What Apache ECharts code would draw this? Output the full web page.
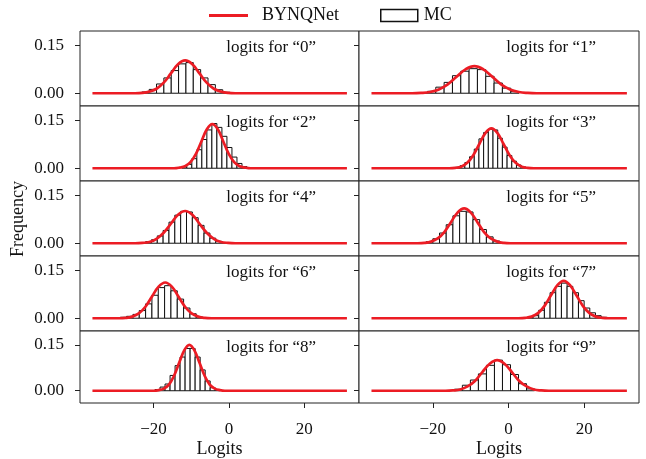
<!DOCTYPE html>
<html>
<head>
<meta charset="utf-8">
<script src="https://cdn.jsdelivr.net/npm/echarts@6/dist/echarts.min.js"></script>
<style>
  html, body { margin: 0; padding: 0; background: #fff; }
  #main { width: 646px; height: 459px; }
</style>
</head>
<body>
<div id="main"></div>
<script>
// digit labels of the ten panels
var digits = ['0', '1', '2', '3', '4', '5', '6', '7', '8', '9'];

// MC histograms: first bin edge, bin width, heights (density)
var binStart = [-25.05, -23.6, -12.5, -14.0, -25.2, -25.3, -30.5, 5.0, -19.6, -14.3];
var binWidth = [1.95, 2.2, 1.33, 1.24, 1.55, 1.77, 1.68, 1.5, 1.33, 2.12];
var hist0 = [0.001, 0.004, 0.012, 0.029, 0.048, 0.071, 0.092, 0.096, 0.074, 0.048, 0.027, 0.011, 0.003];
var hist1 = [0.002, 0.006, 0.019, 0.034, 0.055, 0.069, 0.077, 0.074, 0.053, 0.032, 0.016, 0.005];
var hist2 = [0.004, 0.012, 0.03, 0.058, 0.09, 0.12, 0.14, 0.128, 0.1, 0.065, 0.035, 0.015, 0.005];
var hist3 = [0.003, 0.008, 0.018, 0.036, 0.06, 0.092, 0.112, 0.122, 0.12, 0.094, 0.066, 0.04, 0.022, 0.01, 0.004];
var hist4 = [0.001, 0.002, 0.005, 0.011, 0.023, 0.04, 0.066, 0.088, 0.1, 0.098, 0.08, 0.056, 0.032, 0.016, 0.006, 0.002];
var hist5 = [0.001, 0.002, 0.005, 0.014, 0.032, 0.058, 0.086, 0.1, 0.098, 0.074, 0.043, 0.02, 0.007, 0.002];
var hist6 = [0.002, 0.003, 0.006, 0.012, 0.024, 0.045, 0.072, 0.096, 0.102, 0.086, 0.06, 0.032, 0.014, 0.004, 0.001];
var hist7 = [0.003, 0.008, 0.025, 0.05, 0.08, 0.1, 0.11, 0.1, 0.08, 0.055, 0.032, 0.017, 0.008, 0.003];
var hist8 = [0.004, 0.012, 0.022, 0.05, 0.082, 0.11, 0.138, 0.138, 0.11, 0.068, 0.032, 0.01, 0.003];
var hist9 = [0.005, 0.018, 0.035, 0.055, 0.083, 0.1, 0.085, 0.053, 0.023, 0.006];

// BYNQNet curves [logit, frequency]
var bynq0 = [[-36.2,0],[-26.8,0],[-24.9,0],[-23.0,0.001],[-21.1,0.005],[-19.2,0.014],[-17.3,0.033],[-15.4,0.062],[-13.5,0.091],[-11.6,0.103],[-9.7,0.091],[-7.8,0.062],[-5.9,0.033],[-4.0,0.014],[-2.1,0.005],[-0.2,0.001],[1.7,0],[3.6,0],[31.3,0]];
var bynq1 = [[-36.2,0],[-27.8,0],[-25.45,0],[-23.1,0.001],[-20.75,0.004],[-18.4,0.012],[-16.05,0.028],[-13.7,0.052],[-11.35,0.075],[-9.0,0.085],[-6.65,0.075],[-4.3,0.052],[-1.95,0.028],[0.4,0.012],[2.75,0.004],[5.1,0.001],[7.45,0],[9.8,0],[31.3,0]];
var bynq2 = [[-36.2,0],[-16.0,0],[-14.55,0],[-13.1,0.002],[-11.65,0.006],[-10.2,0.019],[-8.75,0.045],[-7.3,0.084],[-5.85,0.122],[-4.4,0.138],[-2.95,0.122],[-1.5,0.084],[-0.05,0.045],[1.4,0.019],[2.85,0.006],[4.3,0.002],[5.75,0],[7.2,0],[31.3,0]];
var bynq3 = [[-36.2,0],[-17.3,0],[-15.7,0],[-14.1,0.001],[-12.5,0.005],[-10.9,0.017],[-9.3,0.041],[-7.7,0.076],[-6.1,0.110],[-4.5,0.125],[-2.9,0.110],[-1.3,0.076],[0.3,0.041],[1.9,0.017],[3.5,0.005],[5.1,0.001],[6.7,0],[8.3,0],[31.3,0]];
var bynq4 = [[-36.2,0],[-26.8,0],[-24.9,0],[-23.0,0.001],[-21.1,0.004],[-19.2,0.014],[-17.3,0.033],[-15.4,0.061],[-13.5,0.089],[-11.6,0.101],[-9.7,0.089],[-7.8,0.061],[-5.9,0.033],[-4.0,0.014],[-2.1,0.004],[-0.2,0.001],[1.7,0],[3.6,0],[31.3,0]];
var bynq5 = [[-36.2,0],[-25.7,0],[-23.95,0],[-22.2,0.001],[-20.45,0.005],[-18.7,0.015],[-16.95,0.035],[-15.2,0.066],[-13.45,0.096],[-11.7,0.109],[-9.95,0.096],[-8.2,0.066],[-6.45,0.035],[-4.7,0.015],[-2.95,0.005],[-1.2,0.001],[0.55,0],[2.3,0],[31.3,0]];
var bynq6 = [[-36.2,0],[-30.9,0],[-29.15,0],[-27.4,0.001],[-25.65,0.005],[-23.9,0.015],[-22.15,0.036],[-20.4,0.068],[-18.65,0.099],[-16.9,0.112],[-15.15,0.099],[-13.4,0.068],[-11.65,0.036],[-9.9,0.015],[-8.15,0.005],[-6.4,0.001],[-4.65,0],[-2.9,0],[31.3,0]];
var bynq7 = [[-36.2,0],[1.0,0],[2.7,0],[4.4,0.001],[6.1,0.005],[7.8,0.016],[9.5,0.038],[11.2,0.071],[12.9,0.103],[14.6,0.117],[16.3,0.103],[18.0,0.071],[19.7,0.038],[21.4,0.016],[23.1,0.005],[24.8,0.001],[26.5,0],[28.2,0],[31.3,0]];
var bynq8 = [[-36.2,0],[-21.3,0],[-19.95,0],[-18.6,0.002],[-17.25,0.007],[-15.9,0.020],[-14.55,0.049],[-13.2,0.091],[-11.85,0.132],[-10.5,0.150],[-9.15,0.132],[-7.8,0.091],[-6.45,0.049],[-5.1,0.020],[-3.75,0.007],[-2.4,0.002],[-1.05,0],[0.3,0],[31.3,0]];
var bynq9 = [[-36.2,0],[-18.6,0],[-16.65,0],[-14.7,0.001],[-12.75,0.004],[-10.8,0.014],[-8.85,0.032],[-6.9,0.061],[-4.95,0.088],[-3.0,0.100],[-1.05,0.088],[0.9,0.061],[2.85,0.032],[4.8,0.014],[6.75,0.004],[8.7,0.001],[10.65,0],[12.6,0],[31.3,0]];

var xTicks = [-20, 0, 20];
var yTicks = [0, 0.15];

var hists = [hist0, hist1, hist2, hist3, hist4, hist5, hist6, hist7, hist8, hist9];
var curves = [bynq0, bynq1, bynq2, bynq3, bynq4, bynq5, bynq6, bynq7, bynq8, bynq9];

var FONT = '"Liberation Serif", "DejaVu Serif", serif';
var INK = '#111';
var RED = '#ec1c24';

var grids = [], xAxes = [], yAxes = [], series = [], graphics = [];

digits.forEach(function (d, i) {
  var col = i % 2, row = Math.floor(i / 2);
  var left = col ? 359 : 80;
  var width = col ? 280 : 279;
  var top = 31 + 75 * row;
  var bottom = row == 4;

  grids.push({
    left: left, top: top, width: width, height: 75,
    show: true, borderColor: '#222', borderWidth: 1, backgroundColor: '#fff'
  });

  xAxes.push({
    gridIndex: i, type: 'value', min: -39.5, max: 34.5,
    axisLine: { show: false, onZero: false },
    splitLine: { show: false },
    axisTick: { show: bottom, customValues: xTicks, length: 5, lineStyle: { color: '#222' } },
    axisLabel: {
      show: bottom, customValues: xTicks, margin: 18,
      fontFamily: FONT, fontSize: 17, color: INK,
      formatter: function (v) { return v < 0 ? '\u2212' + Math.abs(v) : String(v); }
    },
    name: bottom ? 'Logits' : '',
    nameLocation: 'middle', nameGap: 37,
    nameTextStyle: { fontFamily: FONT, fontSize: 18, color: INK }
  });

  yAxes.push({
    gridIndex: i, type: 'value', min: -0.04, max: 0.195,
    axisLine: { show: false, onZero: false },
    splitLine: { show: false },
    axisTick: { show: true, customValues: yTicks, length: 5, lineStyle: { color: '#222' } },
    axisLabel: {
      show: col == 0, customValues: yTicks, margin: 16,
      fontFamily: FONT, fontSize: 17, color: INK,
      formatter: function (v) { return v.toFixed(2); }
    }
  });

  // histogram bars as [lo, hi, height]
  var bars = hists[i].map(function (h, k) {
    var lo = binStart[i] + k * binWidth[i];
    return [lo, lo + binWidth[i], h];
  });

  series.push({
    name: 'MC', type: 'custom', xAxisIndex: i, yAxisIndex: i,
    encode: { x: [0, 1], y: 2 },
    itemStyle: { color: '#fff', borderColor: INK },
    renderItem: function (params, api) {
      var p0 = api.coord([api.value(0), api.value(2)]);
      var p1 = api.coord([api.value(1), 0]);
      return {
        type: 'rect',
        shape: { x: p0[0], y: p0[1], width: p1[0] - p0[0], height: p1[1] - p0[1] },
        style: { fill: '#fff', stroke: INK, lineWidth: 1 }
      };
    },
    data: bars, z: 2
  });

  series.push({
    name: 'BYNQNet', type: 'line', xAxisIndex: i, yAxisIndex: i,
    data: curves[i], smooth: 0.4,
    symbol: 'none', showSymbol: false,
    lineStyle: { color: RED, width: 2.7 }, itemStyle: { color: RED },
    z: 3
  });

  graphics.push({
    type: 'text', x: left + width - 43, y: top + 17,
    style: {
      text: 'logits for \u201c' + d + '\u201d', fill: INK,
      font: '17px ' + FONT, align: 'right', verticalAlign: 'middle'
    }
  });
});

graphics.push({
  type: 'text', x: 18, y: 219, rotation: Math.PI / 2,
  style: { text: 'Frequency', fill: INK, font: '18px ' + FONT, align: 'center', verticalAlign: 'middle' }
});

var chart = echarts.init(document.getElementById('main'));
chart.setOption({
  animation: false,
  backgroundColor: '#fff',
  legend: [{
    data: [{ name: 'BYNQNet', icon: 'rect', itemStyle: { color: RED, borderWidth: 0 } }],
    left: 209, top: 6.5, padding: 0, selectedMode: false,
    itemWidth: 39, itemHeight: 3,
    textStyle: { fontFamily: FONT, fontSize: 18, color: INK, padding: [0, 0, 0, 9] }
  }, {
    data: [{ name: 'MC', icon: 'rect', itemStyle: { color: '#fff', borderColor: INK, borderWidth: 1.5 } }],
    left: 380, top: 6.5, padding: 0, selectedMode: false,
    itemWidth: 37, itemHeight: 12,
    textStyle: { fontFamily: FONT, fontSize: 18, color: INK, padding: [0, 0, 0, 1] }
  }],
  grid: grids,
  xAxis: xAxes,
  yAxis: yAxes,
  series: series,
  graphic: graphics
});
</script>
</body>
</html>
